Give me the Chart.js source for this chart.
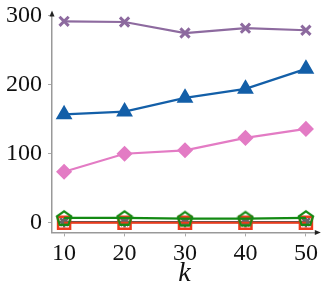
<!DOCTYPE html>
<html>
<head>
<meta charset="utf-8">
<script src="https://cdn.jsdelivr.net/npm/chart.js@4"></script>
<style>
  html, body { margin: 0; padding: 0; background: #fff; }
  #wrap { width: 328px; height: 290px; }
</style>
</head>
<body>
<div id="wrap"><canvas id="chart"></canvas></div>
<script>
// valores
const kValues = [10, 20, 30, 40, 50];
const xTicks = [10, 20, 30, 40, 50];
const yTicks = [0, 100, 200, 300];
const purpleSeries = [292, 291, 275, 282, 279];
const blueSeries = [157, 161, 181, 194, 223];
const pinkSeries = [74, 100, 105, 123, 136];
const greenSeries = [7, 7, 6, 6, 7];
const redSeries = [0, 0, 0, 0, 0];
const graySeries = [1, 1, 1, 1, 1];

// pentágono vazado (Chart.js não tem esse estilo)
function pentagon(color) {
  const c = document.createElement("canvas");
  c.width = 18; c.height = 18;
  const g = c.getContext("2d");
  g.strokeStyle = color;
  g.lineWidth = 2.2;
  g.beginPath();
  for (let i = 0; i < 5; i++) {
    const a = -Math.PI / 2 + i * 2 * Math.PI / 5;
    const px = 9 + 7.5 * Math.cos(a), py = 9.8 + 7.5 * Math.sin(a);
    if (i === 0) g.moveTo(px, py); else g.lineTo(px, py);
  }
  g.closePath();
  g.stroke();
  return c;
}

function pts(values) {
  return values.map((v, i) => ({ x: kValues[i], y: v }));
}

// setas nas pontas dos eixos
const arrows = {
  id: "arrows",
  afterDraw(chart) {
    const a = chart.chartArea, ctx = chart.ctx;
    ctx.save();
    ctx.fillStyle = "#222";
    ctx.beginPath();
    ctx.moveTo(a.left, a.top - 4);
    ctx.lineTo(a.left - 2.5, a.top + 2);
    ctx.lineTo(a.left + 2.5, a.top + 2);
    ctx.closePath();
    ctx.fill();
    ctx.beginPath();
    ctx.moveTo(a.right + 4, a.bottom);
    ctx.lineTo(a.right - 2, a.bottom - 2.5);
    ctx.lineTo(a.right - 2, a.bottom + 2.5);
    ctx.closePath();
    ctx.fill();
    ctx.restore();
  }
};

new Chart(document.getElementById("chart").getContext("2d"), {
  type: "line",
  data: {
    datasets: [
      {
        data: pts(purpleSeries), borderColor: "#8d6a9f", borderWidth: 2.2,
        pointStyle: "crossRot", pointRadius: 6.5, pointBorderWidth: 3, pointBorderColor: "#8d6a9f"
      },
      {
        data: pts(blueSeries), borderColor: "#135fa8", borderWidth: 2.2,
        pointStyle: "triangle", pointRadius: 7.5, pointBackgroundColor: "#135fa8", pointBorderColor: "#135fa8"
      },
      {
        data: pts(pinkSeries), borderColor: "#e37bc4", borderWidth: 2.2,
        pointStyle: "rectRot", pointRadius: 6.5, pointBackgroundColor: "#e37bc4", pointBorderColor: "#e37bc4"
      },
      {
        data: pts(greenSeries), borderColor: "#138a13", borderWidth: 2.2,
        pointStyle: pentagon("#138a13"), pointRadius: 9
      },
      {
        data: pts(redSeries), borderColor: "#ef3b1c", borderWidth: 2,
        pointStyle: "rect", pointRadius: 8.5, pointBorderWidth: 2.5,
        pointBackgroundColor: "rgba(0,0,0,0)", pointBorderColor: "#ef3b1c"
      },
      {
        data: pts(graySeries), borderColor: "#555", borderWidth: 2.2,
        pointStyle: "star", pointRadius: 5.5, pointBorderWidth: 2.5, pointBorderColor: "#666"
      }
    ]
  },
  options: {
    responsive: true,
    maintainAspectRatio: false,
    animation: false,
    clip: false,
    layout: { padding: { top: 0, right: 4, left: 0, bottom: 0 } },
    plugins: { legend: { display: false }, tooltip: { enabled: false } },
    scales: {
      x: {
        type: "linear", min: 8, max: 51.8,
        afterBuildTicks: (s) => { s.ticks = xTicks.map((v) => ({ value: v })); },
        grid: { drawOnChartArea: false, drawTicks: true, tickLength: 4, color: "#aaa" },
        border: { color: "#999", width: 1.5 },
        ticks: { color: "#111", font: { family: "Liberation Serif", size: 24, lineHeight: 1 },
                 padding: 5, maxRotation: 0 },
        title: { display: true, text: "k", color: "#111", padding: { top: -14, bottom: 0 },
                 font: { family: "Liberation Serif", size: 28, style: "italic" } }
      },
      y: {
        min: -14, max: 302,
        afterBuildTicks: (s) => { s.ticks = yTicks.map((v) => ({ value: v })); },
        grid: { drawOnChartArea: false, drawTicks: true, tickLength: 4, color: "#aaa" },
        border: { color: "#999", width: 1.5 },
        ticks: { color: "#111", font: { family: "Liberation Serif", size: 24, lineHeight: 0.7 },
                 padding: 6 }
      }
    }
  },
  plugins: [arrows]
});
</script>
</body>
</html>
